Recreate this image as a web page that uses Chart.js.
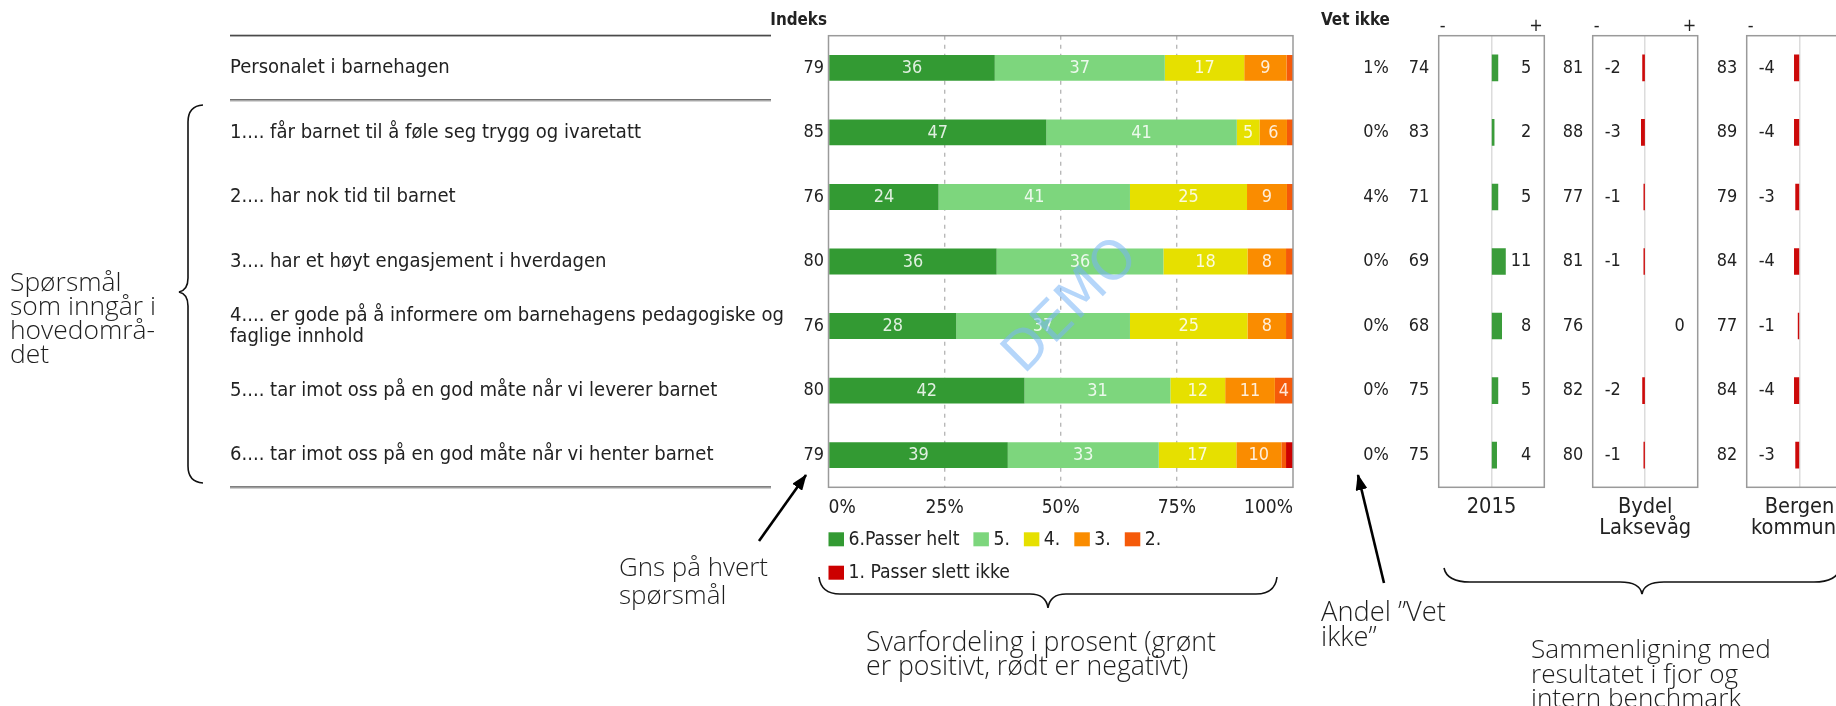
<!DOCTYPE html>
<html lang="no">
<head>
<meta charset="utf-8">
<title>Personalet i barnehagen</title>
<script src="https://cdn.jsdelivr.net/npm/chart.js@4.4.1/dist/chart.umd.min.js"></script>
<style>
html,body{margin:0;padding:0;background:#fff;overflow:hidden;}
#wrap{position:relative;width:1836px;height:706px;overflow:hidden;background:#fff;}
#wrap canvas{position:absolute;left:0;top:0;}
#deco{position:absolute;left:0;top:0;}
.ann{position:absolute;font-family:'Open Sans',sans-serif;font-weight:300;color:#1e1e1e;white-space:nowrap;}
</style>
</head>
<body>
<div id="wrap">
  <canvas id="cMain" width="1870" height="706"></canvas>
  <canvas id="cP1" width="1870" height="706"></canvas>
  <canvas id="cP2" width="1870" height="706"></canvas>
  <canvas id="cP3" width="1870" height="706"></canvas>
  <svg id="deco" width="1870" height="706" xmlns="http://www.w3.org/2000/svg">
    <defs>
      <marker id="ah" markerWidth="16" markerHeight="12" refX="15" refY="6" orient="auto" markerUnits="userSpaceOnUse">
        <path d="M0,0 L16,6 L0,12 z" fill="#000"/>
      </marker>
    </defs>
    <g fill="none" stroke="#111" stroke-width="1.6">
      <path d="M203,105 Q188,106 188,122 L188,278 Q188,290 179,292 Q188,294 188,306 L188,466 Q188,482 203,483"/>
      <path d="M819,577 Q821,594 840,594 L1030,594 Q1046,594 1048,608 Q1050,594 1066,594 L1256,594 Q1275,594 1277,577"/>
      <path d="M1444,568 Q1447,582 1470,582 L1620,582 Q1640,582 1642,594 Q1644,582 1664,582 L1814,582 Q1837,582 1840,568"/>
    </g>
    <g stroke="#000" stroke-width="2.6" fill="none">
      <line x1="759" y1="541" x2="806" y2="475" marker-end="url(#ah)"/>
      <line x1="1384" y1="583" x2="1358" y2="475" marker-end="url(#ah)"/>
    </g>
  </svg>
</div>
<script>
// ---------------- DATA ----------------
const questions = [
  'Personalet i barnehagen',
  '1.... får barnet til å føle seg trygg og ivaretatt',
  '2.... har nok tid til barnet',
  '3.... har et høyt engasjement i hverdagen',
  ['4.... er gode på å informere om barnehagens pedagogiske og', 'faglige innhold'],
  '5.... tar imot oss på en god måte når vi leverer barnet',
  '6.... tar imot oss på en god måte når vi henter barnet'
];
const indeks = [79, 85, 76, 80, 76, 80, 79];
const vetIkke = [1, 0, 4, 0, 0, 0, 0];
const answerLabels = ['6.Passer helt', '5.', '4.', '3.', '2.', '1. Passer slett ikke'];
const svar6PasserHelt = [35.8, 46.9, 23.7, 36.2, 27.5, 42.2, 38.6];
const svar5 = [36.6, 41.0, 41.2, 35.9, 37.4, 31.4, 32.5];
const svar4 = [17.1, 4.9, 25.2, 18.1, 25.3, 11.8, 16.7];
const svar3 = [9.1, 5.9, 8.6, 8.3, 8.3, 10.7, 9.7];
const svar2 = [1.4, 1.3, 1.3, 1.5, 1.5, 3.9, 1.0];
const svar1PasserSlettIkke = [0, 0, 0, 0, 0, 0, 1.5];
const pctTicks = [0, 25, 50, 75, 100];

const index2015 = [74, 83, 71, 69, 68, 75, 75];
const diff2015 = [5, 2, 5, 11, 8, 5, 4];
const indexBydel = [81, 88, 77, 81, 76, 82, 80];
const diffBydel = [-2, -3, -1, -1, 0, -2, -1];
const indexBergen = [83, 89, 79, 84, 77, 84, 82];
const diffBergen = [-4, -4, -3, -4, -1, -4, -3];
const panelTitles = [['2015'], ['Bydel', 'Laksevåg'], ['Bergen', 'kommune']];

// ---------------- STYLE / LAYOUT ----------------
const W = 1870, H = 706;
const TXT = '#222';
const answerColors = ['#339a33', '#7dd67d', '#e6e000', '#fa8c00', '#f55a0a', '#cc0000'];
const PLOT = {left: 828.5, right: 1293, top: 35.7, bottom: 487.3};
const LABEL_X = 230, RULE_R = 771;
const PANELS = [{left: 1438.7, right: 1544.3}, {left: 1592.7, right: 1697.7}, {left: 1746.7, right: 1852.3}];

const mctx = document.createElement('canvas').getContext('2d');
function hasFont(f) {
  const t = 'abcdefghijklmnopqrstuvwxyzABCDEFGH0123456789';
  mctx.font = '40px monospace'; const a = mctx.measureText(t).width;
  mctx.font = '40px "' + f + '", monospace'; const b = mctx.measureText(t).width;
  return Math.abs(a - b) > 0.5;
}
const UIF = hasFont('DejaVu Sans Condensed') ? '"DejaVu Sans Condensed", "DejaVu Sans", sans-serif' : '"DejaVu Sans", sans-serif';
function fit(text, target, fam, weight) {
  mctx.font = (weight || 'normal') + ' 40px ' + fam;
  return 40 * target / mctx.measureText(text).width;
}
const rowSize = fit('Personalet i barnehagen', 220, UIF);
const numSize = fit('79', 20.5, UIF);
const legSize = fit('6.Passer helt', 111, UIF);
const tickSize = fit('100%', 49, UIF);
const hdrSize = fit('Vet ikke', 69, UIF, 'bold');
const ttlSize = fit('Laksevåg', 92, UIF);
const f = (s, w) => (w || 'normal') + ' ' + s + 'px ' + UIF;

Chart.defaults.animation = false;
Chart.defaults.devicePixelRatio = 1;

// ---------------- MAIN CHART ----------------
const mainDeco = {
  id: 'mainDeco',
  afterDraw(chart) {
    const {ctx, chartArea: a, scales: {x, y}} = chart;
    ctx.save();
    const rule = (yy) => {
      ctx.fillStyle = '#4a4a4a'; ctx.fillRect(LABEL_X, yy - 1, RULE_R - LABEL_X, 1.3);
      ctx.fillStyle = '#b0b0b0'; ctx.fillRect(LABEL_X, yy + 0.3, RULE_R - LABEL_X, 1);
    };
    rule(a.top);
    rule((y.getPixelForValue(0) + y.getPixelForValue(1)) / 2);
    rule(a.bottom);
    ctx.strokeStyle = '#9a9a9a'; ctx.lineWidth = 1.5;
    ctx.strokeRect(a.left, a.top, a.right - a.left, a.bottom - a.top);
    ctx.fillStyle = TXT; ctx.textBaseline = 'middle';
    ctx.font = f(hdrSize, 'bold');
    ctx.textAlign = 'right'; ctx.fillText('Indeks', a.left - 1.5, 21);
    ctx.textAlign = 'left'; ctx.fillText('Vet ikke', 1321, 21);
    ctx.font = f(numSize);
    indeks.forEach((v, i) => {
      const yy = y.getPixelForValue(i);
      ctx.textAlign = 'right';
      ctx.fillText(String(v), a.left - 4.5, yy);
      ctx.fillText(vetIkke[i] + '%', 1388.7, yy);
    });
    ctx.font = f(numSize); ctx.textAlign = 'center'; ctx.fillStyle = 'rgba(255,255,255,0.85)';
    chart.data.datasets.forEach((ds, di) => {
      const meta = chart.getDatasetMeta(di);
      meta.data.forEach((el, i) => {
        const v = ds.data[i];
        if (v < 3) return;
        const p = el.getProps(['x', 'base', 'y'], true);
        ctx.fillText(String(Math.round(v)), (p.x + p.base) / 2, p.y + 0.5);
      });
    });
    ctx.font = f(legSize); ctx.textAlign = 'left';
    let lx = a.left, ly = 539.3;
    chart.data.datasets.forEach((ds, di) => {
      if (di === 5) { lx = a.left; ly = 572.7; }
      ctx.fillStyle = ds.backgroundColor;
      ctx.fillRect(lx, ly - 7, 15.5, 14);
      ctx.fillStyle = TXT;
      ctx.fillText(ds.label, lx + 20, ly + 0.5);
      lx += 20 + ctx.measureText(ds.label).width + 14;
    });
    ctx.translate(1072, 307); ctx.rotate(-Math.PI / 4);
    ctx.font = '54px "DejaVu Sans", sans-serif'; ctx.textAlign = 'center';
    ctx.fillStyle = 'rgba(120,180,245,0.55)';
    ctx.fillText('DEMO', 0, 0);
    ctx.restore();
  }
};

const mainSeries = [svar6PasserHelt, svar5, svar4, svar3, svar2, svar1PasserSlettIkke];
new Chart(document.getElementById('cMain'), {
  type: 'bar',
  data: {
    labels: questions,
    datasets: mainSeries.map((d, i) => ({
      label: answerLabels[i], data: d, backgroundColor: answerColors[i],
      borderWidth: 0, barPercentage: 0.4, categoryPercentage: 1
    }))
  },
  options: {
    responsive: false, indexAxis: 'y',
    layout: {padding: {left: LABEL_X, top: PLOT.top, right: W - PLOT.right, bottom: H - PLOT.bottom - 30}},
    plugins: {legend: {display: false}, tooltip: {enabled: false}},
    scales: {
      x: {
        stacked: true, min: 0, max: 100, position: 'bottom',
        afterBuildTicks: s => { s.ticks = pctTicks.map(v => ({value: v})); },
        afterFit: s => { s.height = 30; },
        ticks: {callback: v => v + '%', align: 'inner', padding: 9, color: TXT, maxRotation: 0, autoSkip: false,
                font: {family: UIF, size: tickSize}},
        grid: {color: c => (c.tick && (c.tick.value === 0 || c.tick.value === 100)) ? 'rgba(0,0,0,0)' : '#b8b8b8',
               borderDash: [4, 5], drawTicks: false, lineWidth: 1.4},
        border: {display: false, dash: [4, 5]}
      },
      y: {
        stacked: true, position: 'left',
        afterFit: s => { s.width = PLOT.left - LABEL_X; },
        ticks: {crossAlign: 'far', autoSkip: false, padding: 0, color: TXT,
                font: {family: UIF, size: rowSize, lineHeight: 20.6 / rowSize}},
        grid: {display: false, drawTicks: false},
        border: {display: false}
      }
    }
  },
  plugins: [mainDeco]
});

// ---------------- COMPARISON PANELS ----------------
function makePanel(id, box, bench, diffs, title) {
  const deco = {
    id: 'panelDeco',
    afterDraw(chart) {
      const {ctx, chartArea: a, scales: {y}} = chart;
      ctx.save();
      ctx.strokeStyle = '#9a9a9a'; ctx.lineWidth = 1.5;
      ctx.strokeRect(a.left, a.top, a.right - a.left, a.bottom - a.top);
      ctx.fillStyle = TXT; ctx.textBaseline = 'middle';
      ctx.font = f(numSize);
      ctx.textAlign = 'center';
      ctx.fillText('-', a.left + 4, 26.7);
      ctx.fillText('+', a.right - 8.3, 26.7);
      bench.forEach((v, i) => {
        const yy = y.getPixelForValue(i);
        ctx.textAlign = 'right';
        ctx.fillText(String(v), a.left - 9.4, yy);
        const d = diffs[i];
        if (d < 0) { ctx.textAlign = 'left'; ctx.fillText(String(d), a.left + 12, yy); }
        else { ctx.textAlign = 'right'; ctx.fillText(String(d), a.right - 13, yy); }
      });
      ctx.font = f(ttlSize); ctx.textAlign = 'center';
      const cx = (a.left + a.right) / 2;
      title.forEach((t, k) => ctx.fillText(t, cx, 507 + k * 21.5));
      ctx.restore();
    }
  };
  return new Chart(document.getElementById(id), {
    type: 'bar',
    data: {
      labels: questions.map((q, i) => 'r' + i),
      datasets: [{
        data: diffs,
        backgroundColor: diffs.map(v => v > 0 ? '#3a9c3a' : (v < 0 ? '#cc0a0a' : 'rgba(0,0,0,0)')),
        borderWidth: 0, inflateAmount: 0.45, barPercentage: 0.4, categoryPercentage: 1
      }]
    },
    options: {
      responsive: false, indexAxis: 'y',
      layout: {padding: {left: box.left, right: W - box.right, top: PLOT.top, bottom: H - PLOT.bottom}},
      plugins: {legend: {display: false}, tooltip: {enabled: false}},
      scales: {
        x: {
          min: -42, max: 42, position: 'bottom',
          afterBuildTicks: s => { s.ticks = [{value: -42}, {value: 0}, {value: 42}]; },
          afterFit: s => { s.height = 0; },
          ticks: {display: false},
          grid: {color: c => (c.tick && c.tick.value === 0) ? '#dcdcdc' : 'rgba(0,0,0,0)', drawTicks: false, lineWidth: 1.5},
          border: {display: false}
        },
        y: {display: false}
      }
    },
    plugins: [deco]
  });
}
makePanel('cP1', PANELS[0], index2015, diff2015, panelTitles[0]);
makePanel('cP2', PANELS[1], indexBydel, diffBydel, panelTitles[1]);
makePanel('cP3', PANELS[2], indexBergen, diffBergen, panelTitles[2]);

// ---------------- ANNOTATIONS (real text) ----------------
const ANNF = "'Open Sans', sans-serif";
const annotations = [
  {lines: ['Spørsmål', 'som inngår i', 'hovedområ-', 'det'], x: 10, y: 281, step: 24, fitLine: 1, width: 146},
  {lines: ['Gns på hvert', 'spørsmål'], x: 619, y: 566, step: 28, fitLine: 0, width: 149},
  {lines: ['Svarfordeling i prosent (grønt', 'er positivt, rødt er negativt)'], x: 866, y: 640, step: 24, fitLine: 0, width: 350},
  {lines: ['Andel ”Vet', 'ikke”'], x: 1321, y: 610, step: 25, fitLine: 0, width: 125},
  {lines: ['Sammenligning med', 'resultatet i fjor og', 'intern benchmark'], x: 1531, y: 648, step: 24.5, fitLine: 0, width: 240}
];
const wrap = document.getElementById('wrap');
annotations.forEach(an => {
  const size = fit(an.lines[an.fitLine], an.width, ANNF, '300');
  an.lines.forEach((t, k) => {
    const d = document.createElement('div');
    d.className = 'ann';
    d.textContent = t;
    const lh = Math.round(size * 1.3);
    d.style.fontSize = size.toFixed(2) + 'px';
    d.style.lineHeight = lh + 'px';
    d.style.left = an.x + 'px';
    d.style.top = (an.y + k * an.step - lh / 2) + 'px';
    wrap.appendChild(d);
  });
});
</script>
</body>
</html>
